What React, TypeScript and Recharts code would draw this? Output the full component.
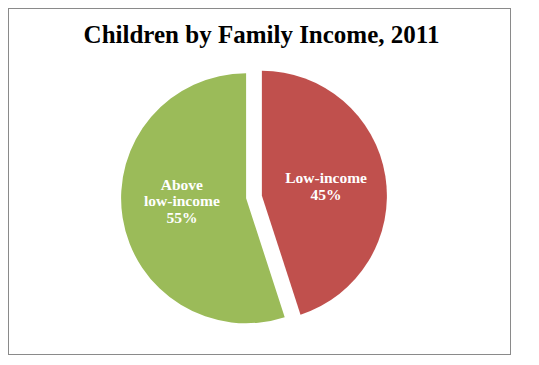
import { PieChart, Pie, Cell, Sector } from "recharts";

const categories = ["Low-income", "Above low-income"];
const shares = [45, 55];
const labelLines = [["Low-income"], ["Above", "low-income"]];
const colors = ["#C0504D", "#9BBB59"];

const chartData = categories.map((name, i) => ({ name, value: shares[i] }));

const RAD = Math.PI / 180;
const EXPLODE = 8;

const shift = (midAngle: number, d: number) => ({
  dx: Math.cos(-midAngle * RAD) * d,
  dy: Math.sin(-midAngle * RAD) * d,
});

const ExplodedSector = (props: any) => {
  const { dx, dy } = shift(props.midAngle, EXPLODE);
  return <Sector {...props} cx={props.cx + dx} cy={props.cy + dy} stroke="none" />;
};

// anchor sits between the last name line and the percent line
const renderLabel = ({ cx, cy, midAngle, outerRadius, percent, index }: any) => {
  const { dx, dy } = shift(midAngle, outerRadius * 0.52 + EXPLODE);
  const lines = [...labelLines[index], `${Math.round(percent * 100)}%`];
  const lh = 16.5;
  const x = cx + dx;
  const yLast = cy + dy + lh / 2;
  const y0 = yLast - (lines.length - 1) * lh;
  return (
    <text
      x={x}
      y={y0}
      fill="#FFFFFF"
      textAnchor="middle"
      dominantBaseline="central"
      fontFamily="'Liberation Serif', serif"
      fontWeight="bold"
      fontSize={15.5}
    >
      {lines.map((l, i) => (
        <tspan key={i} x={x} y={y0 + i * lh}>
          {l}
        </tspan>
      ))}
    </text>
  );
};

const App = () => {
  return (
    <div
      style={{
        position: "relative",
        width: 503,
        height: 347,
        boxSizing: "border-box",
        border: "1px solid #8A8A8A",
        background: "#FFFFFF",
      }}
    >
      <div
        style={{
          position: "absolute",
          top: 12,
          left: 2,
          width: 501,
          textAlign: "center",
          fontFamily: "'Liberation Serif', serif",
          fontWeight: "bold",
          fontSize: 25,
          color: "#000000",
        }}
      >
        Children by Family Income, 2011
      </div>
      <PieChart width={501} height={345}>
        <Pie
          data={chartData}
          dataKey="value"
          nameKey="name"
          cx={240}
          cy={183}
          outerRadius={125}
          startAngle={90}
          endAngle={-270}
          stroke="none"
          labelLine={false}
          label={renderLabel}
          shape={ExplodedSector}
          isAnimationActive={false}
        >
          {chartData.map((entry, index) => (
            <Cell key={`cell-${index}`} fill={colors[index]} />
          ))}
        </Pie>
      </PieChart>
    </div>
  );
};

export default App;
